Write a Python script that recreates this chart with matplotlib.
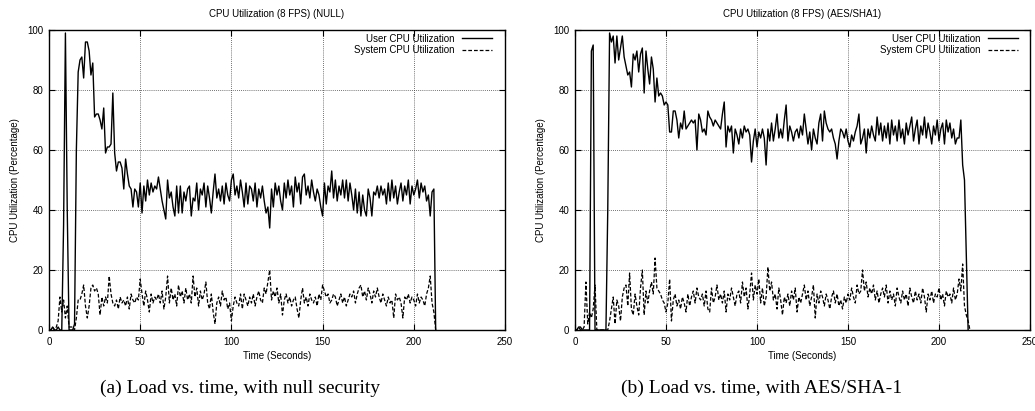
import numpy as np
import matplotlib
matplotlib.use("Agg")
import matplotlib.pyplot as plt

plt.rcParams['font.family'] = ['Liberation Sans', 'DejaVu Sans']

# ---------------- data ----------------
titles = ["CPU Utilization (8 FPS) (NULL)", "CPU Utilization (8 FPS) (AES/SHA1)"]
captions = ["(a) Load vs. time, with null security", "(b) Load vs. time, with AES/SHA-1"]
legend_labels = ["User CPU Utilization", "System CPU Utilization"]
xlabel = "Time (Seconds)"
ylabel = "CPU Utilization (Percentage)"
xticks = [0, 50, 100, 150, 200, 250]
yticks = [0, 20, 40, 60, 80, 100]

null_user = [
    0, 0, 1, 0, 0, 1, 0, 0, 35, 99, 40, 0, 0, 0, 2, 60,
    86, 90, 91, 84, 96, 96, 93, 85, 89, 71, 72, 72, 70, 67,
    74, 59, 61, 61, 62, 79, 59, 53, 56, 56,
    54, 47, 57, 52, 48, 47, 41, 47, 46, 41,
    49, 39, 48, 43, 50, 45, 49, 46, 48, 47,
    51, 47, 43, 40, 37, 50, 44, 46, 41, 38,
    48, 39, 48, 39, 46, 43, 47, 48, 38, 44,
    43, 49, 40, 47, 45, 49, 41, 48, 44, 39,
    46, 52, 44, 47, 43, 48, 42, 49, 45, 43,
    50, 52, 45, 48, 44, 50, 46, 41, 49, 42,
    48, 47, 43, 49, 41, 47, 44, 48, 43, 39,
    41, 34, 47, 41, 49, 45, 48, 43, 40, 49,
    44, 50, 45, 48, 41, 51, 46, 49, 42, 51,
    52, 45, 48, 44, 50, 46, 43, 47, 45, 41,
    38, 49, 42, 48, 46, 53, 44, 50, 43, 48,
    45, 50, 44, 50, 43, 49, 45, 40, 47, 39,
    46, 38, 45, 40, 38, 47, 44, 38, 46, 45,
    48, 44, 48, 45, 47, 42, 49, 43, 50, 44,
    48, 42, 46, 49, 43, 48, 45, 50, 42, 48,
    45, 47, 50, 44, 49, 46, 48, 43, 45, 38,
    46, 47, 0,
]

null_sys = [
    0, 0, 1, 0, 1, 3, 11, 6, 10, 4,
    8, 1, 1, 1, 0, 4, 10, 10, 12, 15,
    8, 4, 8, 14, 15, 13, 14, 12, 5, 11,
    8, 11, 9, 18, 12, 9, 8, 10, 7, 11,
    9, 10, 8, 11, 7, 12, 10, 9, 11, 10,
    17, 12, 8, 13, 10, 6, 12, 9, 11, 10,
    12, 9, 13, 7, 11, 18, 9, 14, 10, 12,
    8, 15, 11, 13, 9, 14, 10, 12, 9, 18,
    11, 14, 8, 13, 10, 12, 16, 9, 7, 12,
    6, 2, 9, 11, 8, 13, 10, 11, 7, 9,
    3, 8, 11, 9, 8, 12, 7, 12, 10, 8,
    11, 9, 12, 8, 11, 13, 10, 9, 14, 12,
    16, 20, 10, 13, 11, 14, 9, 12, 5, 10,
    12, 9, 11, 8, 10, 11, 7, 4, 10, 14,
    9, 11, 8, 12, 10, 9, 11, 8, 12, 10,
    15, 13, 11, 12, 9, 10, 12, 11, 8, 10,
    12, 9, 11, 8, 10, 12, 11, 13, 9, 12,
    14, 15, 11, 13, 10, 14, 12, 9, 13, 11,
    14, 11, 9, 12, 10, 8, 11, 9, 10, 4,
    12, 10, 11, 9, 4, 11, 10, 12, 9, 11,
    10, 8, 12, 9, 11, 10, 8, 12, 14, 18,
    9, 6, 0,
]

aes_user = [
    0, 0, 1, 1, 0, 0, 0, 0, 0, 93, 95,
    0, 0, 0, 0, 0, 0, 0, 40,
    99, 96, 98, 89, 98, 90, 94, 98, 91, 88, 85, 86, 81, 92, 90, 93, 86, 92, 94, 79,
    93, 87, 82, 91, 87, 76, 84, 78, 79, 78, 75, 76, 75, 66, 66, 73, 73, 70, 64, 69,
    67, 73, 67, 68, 69, 70, 69, 70, 60, 72, 70, 66, 67, 65, 73, 71, 70, 68, 70, 69,
    68, 67, 72, 76, 61, 68, 66, 68, 59, 67, 65, 62, 67, 64, 68, 66, 67, 65, 56, 63,
    67, 61, 66, 64, 67, 64, 55, 67, 63, 69, 63, 67, 72, 64, 67, 64, 70, 75, 63, 68,
    66, 63, 66, 67, 64, 68, 65, 72, 67, 62, 66, 60, 67, 64, 62, 69, 72, 63, 73, 69,
    67, 66, 67, 64, 62, 57, 63, 67, 66, 64, 67, 63, 61, 65, 63, 66, 68, 72, 62, 64,
    67, 59, 67, 64, 68, 65, 63, 71, 65, 69, 63, 68, 64, 69, 62, 70, 65, 68, 63, 70,
    64, 67, 62, 69, 65, 68, 71, 63, 67, 70, 62, 68, 65, 71, 64, 69, 66, 62, 68, 65,
    70, 63, 67, 69, 62, 70, 66, 69, 64, 67, 62, 64, 64, 70, 55, 50, 25, 0,
]

aes_sys = [
    0, 0, 1, 0, 0, 1, 16, 2, 6, 4,
    7, 15, 0, 0, 0, 0, 0, 0, 0, 3,
    7, 11, 2, 10, 8, 3, 11, 14, 15, 8,
    19, 7, 5, 12, 8, 5, 14, 20, 5, 13,
    9, 13, 16, 12, 24, 14, 13, 12, 10, 9,
    6, 9, 17, 3, 10, 12, 8, 10, 7, 11,
    9, 6, 12, 8, 11, 13, 9, 14, 11, 10,
    12, 8, 13, 7, 6, 14, 9, 11, 15, 10,
    12, 9, 13, 6, 12, 10, 14, 11, 8, 12,
    13, 9, 16, 11, 14, 7, 12, 19, 10, 15,
    12, 17, 9, 14, 8, 11, 21, 13, 16, 10,
    12, 7, 14, 10, 5, 11, 9, 12, 8, 13,
    10, 14, 6, 11, 9, 12, 15, 10, 13, 8,
    11, 15, 4, 12, 9, 13, 11, 8, 12, 10,
    7, 11, 13, 9, 12, 8, 10, 7, 11, 9,
    12, 10, 14, 11, 9, 15, 12, 13, 20, 13,
    16, 11, 14, 12, 15, 10, 13, 9, 12, 14,
    11, 15, 9, 13, 10, 12, 8, 14, 11, 9,
    13, 10, 12, 8, 14, 11, 9, 13, 10, 12,
    9, 14, 11, 6, 12, 10, 13, 9, 12, 11,
    14, 10, 12, 8, 13, 11, 12, 9, 14, 10,
    12, 17, 13, 22, 8, 5, 3, 0,
]

panels = [(null_user, null_sys), (aes_user, aes_sys)]

# ---------------- figure ----------------
W, H = 1035, 411
fig = plt.figure(figsize=(W / 100, H / 100), dpi=100)

axes_px = [(49, 505), (575, 1030)]
top_px, bot_px = 30, 330
cap_x = [240, 762]
leg_anchor_x = [0.980, 0.982]

for i, (user, sys_) in enumerate(panels):
    l, r = axes_px[i]
    ax = fig.add_axes([l / W, (H - bot_px) / H, (r - l) / W, (bot_px - top_px) / H])
    t_u = np.arange(len(user))
    t_s = np.arange(len(sys_))
    ax.plot(t_u, user, color='black', lw=1.0, label=legend_labels[0])
    ax.plot(t_s, sys_, color='black', lw=0.9, linestyle=(0, (3, 1.6)), label=legend_labels[1])
    ax.set_xlim(0, 250)
    ax.set_ylim(0, 100)
    ax.set_xticks(xticks)
    ax.set_yticks(yticks)
    ax.grid(True, color='#444444', lw=0.6, linestyle=(0, (1, 1.5)))
    ax.tick_params(direction='in', top=True, right=True, length=4, width=0.8,
                   labelsize=7, colors='black')
    ax.tick_params(axis='x', pad=5)
    ax.tick_params(axis='y', pad=4)
    for s in ax.spines.values():
        s.set_linewidth(1.0)
    ax.set_title(titles[i], fontsize=7, pad=9.5)
    ax.set_xlabel(xlabel, fontsize=7, labelpad=3)
    ax.set_ylabel(ylabel, fontsize=7, labelpad=5)
    ax.legend(loc='upper right', bbox_to_anchor=(leg_anchor_x[i], 1.0),
              frameon=False, markerfirst=False, fontsize=7,
              handlelength=3.1, handletextpad=0.72, labelspacing=0.15,
              borderaxespad=0.0)
    fig.text(cap_x[i] / W, (H - 388) / H, captions[i], ha='center', va='center',
             fontsize=14, family=['Liberation Serif', 'DejaVu Serif'])

fig.savefig('out.png', dpi=100)
